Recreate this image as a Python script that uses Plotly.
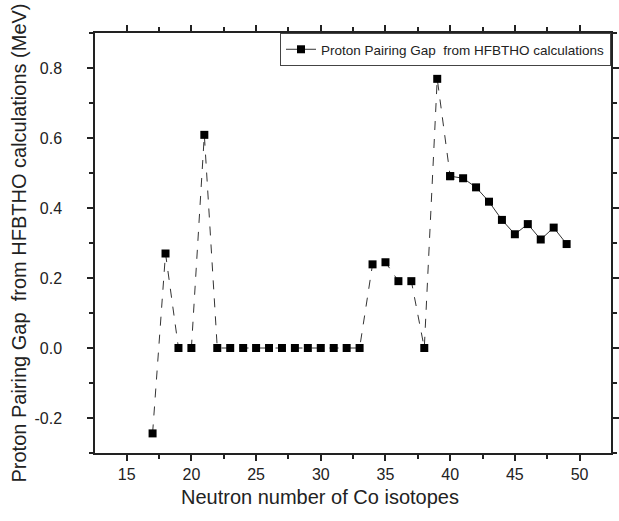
import plotly.graph_objects as go

neutrons = [17, 18, 19, 20, 21, 22, 23, 24, 25, 26, 27, 28, 29, 30, 31, 32, 33,
            34, 35, 36, 37, 38, 39, 40, 41, 42, 43, 44, 45, 46, 47, 48, 49]
gap = [-0.244, 0.27, 0.0, 0.0, 0.609, 0.0, 0.0, 0.0, 0.0, 0.0, 0.0, 0.0, 0.0, 0.0, 0.0, 0.0, 0.0,
       0.239, 0.245, 0.191, 0.191, 0.0, 0.769, 0.491, 0.485, 0.459, 0.418, 0.366, 0.325, 0.354,
       0.31, 0.344, 0.297]
split_n = 40
series_name = "Proton Pairing Gap  from HFBTHO calculations"
x_title = "Neutron number of Co isotopes"
y_title = "Proton Pairing Gap  from HFBTHO calculations (MeV)"

i = neutrons.index(split_n)
line_col = "#333333"
fig = go.Figure()
fig.add_trace(go.Scatter(x=neutrons[:i + 1], y=gap[:i + 1], mode="lines+markers",
                         line=dict(color=line_col, width=1, dash="dash"),
                         marker=dict(symbol="square", size=8, color="black"),
                         showlegend=False))
fig.add_trace(go.Scatter(x=neutrons[i:], y=gap[i:], mode="lines+markers",
                         line=dict(color=line_col, width=1),
                         marker=dict(symbol="square", size=8, color="black"),
                         name=series_name, showlegend=True))

axfont = dict(family="Liberation Sans, Arial, sans-serif", size=16, color="#222")
xr = [12.55, 52.43]
yr = [-0.3, 0.9]
xt = [15, 20, 25, 30, 35, 40, 45, 50]
yt = [-0.2, 0.0, 0.2, 0.4, 0.6, 0.8]
fig.update_layout(
    width=619, height=521,
    margin=dict(l=95, r=8, t=33, b=68),
    paper_bgcolor="white", plot_bgcolor="white",
    font=dict(family="Liberation Sans, Arial, sans-serif", color="#222"),
    xaxis=dict(range=xr, tickvals=xt, automargin=False, mirror="allticks",
               ticks="outside", ticklen=6, tickwidth=1.5, tickcolor="#222",
               minor=dict(dtick=2.5, tick0=0, ticks="outside", ticklen=4, tickcolor="#222"),
               showline=True, linecolor="#222", linewidth=1.5, showgrid=False, zeroline=False,
               tickfont=axfont),
    yaxis=dict(range=yr, tickvals=yt, automargin=False, mirror="allticks",
               ticktext=["-0.2", "0.0", "0.2", "0.4", "0.6", "0.8"],
               ticks="outside", ticklen=6, tickwidth=1.5, tickcolor="#222",
               ticklabelstandoff=22,
               minor=dict(dtick=0.1, tick0=0, ticks="outside", ticklen=4, tickcolor="#222"),
               showline=True, linecolor="#222", linewidth=1.5, showgrid=False, zeroline=False,
               tickfont=axfont,
               title=dict(text=y_title, font=dict(size=20), standoff=2)),
    legend=dict(x=1, y=1, xanchor="right", yanchor="top", bgcolor="white",
                bordercolor="#444", borderwidth=1, font=dict(size=13.5),
                itemwidth=30, tracegroupgap=0),
    annotations=[dict(text=x_title, xref="paper", yref="paper", x=0.436, y=-0.105,
                      xanchor="center", yanchor="middle", showarrow=False,
                      font=dict(size=20, color="#222"))],
)
fig.write_html("out.html", config={"displayModeBar": False},
               post_script="document.body.style.margin='0';")
